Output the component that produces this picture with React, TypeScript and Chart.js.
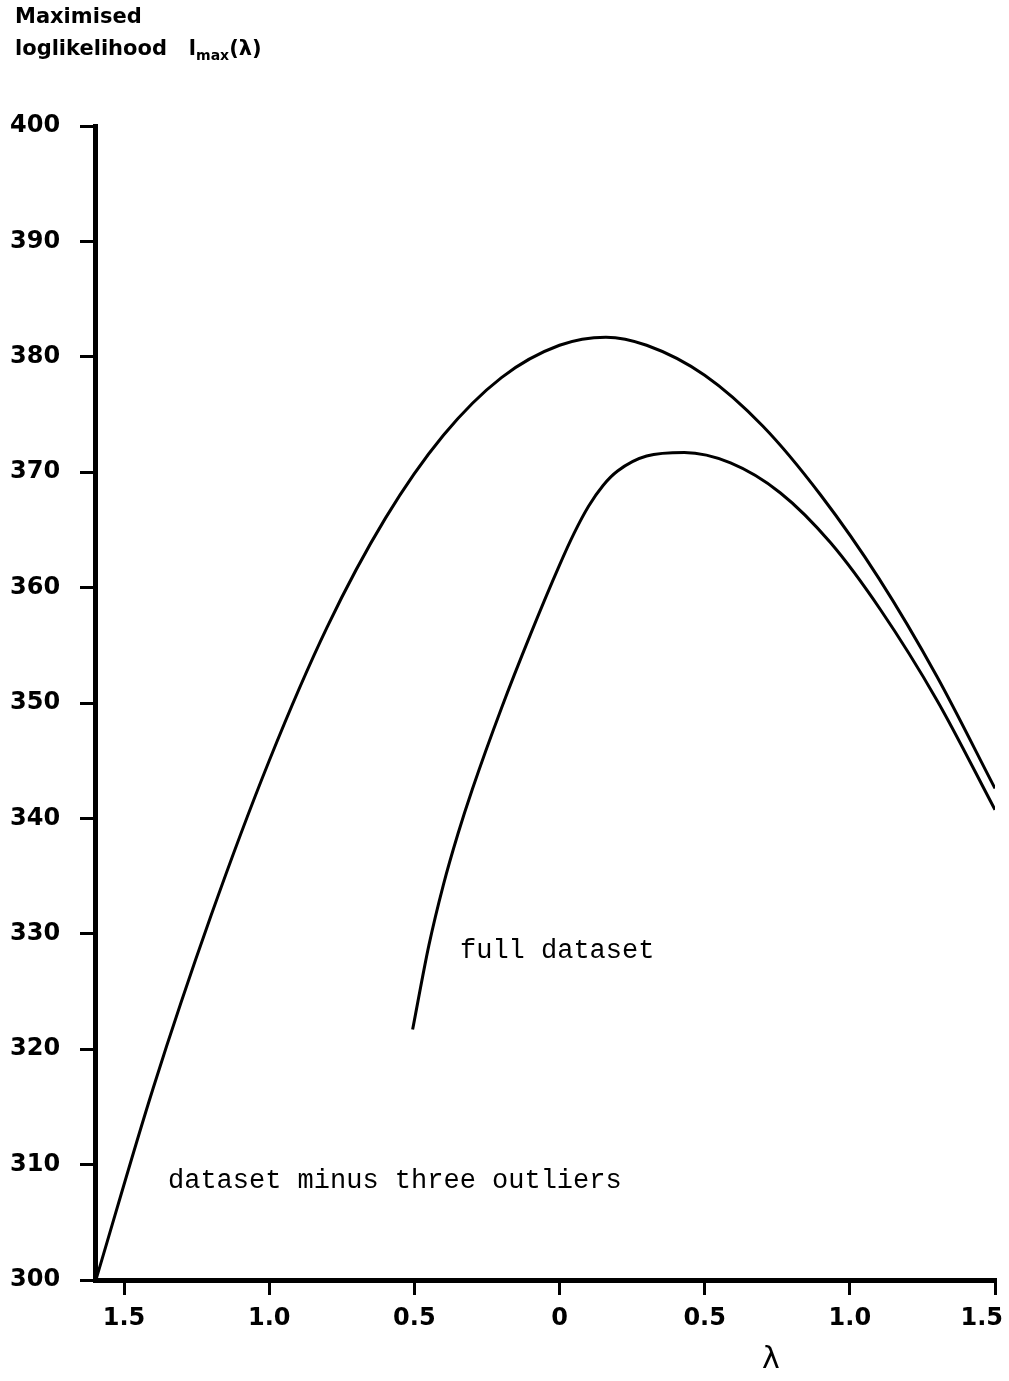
import React, { useEffect, useRef } from "react";
import { Chart, registerables } from "chart.js";

Chart.register(...registerables);

// Axis ticks
const X_TICKS = [-1.5, -1.0, -0.5, 0, 0.5, 1.0, 1.5];
const Y_TICKS = [300, 310, 320, 330, 340, 350, 360, 370, 380, 390, 400];

// Outer curve (dataset minus three outliers)
const OUTER_X = [-1.597, -1.4, -1.2, -1.0, -0.8, -0.6, -0.4, -0.2, 0.0, 0.16, 0.3, 0.5, 0.7, 0.9, 1.1, 1.3, 1.5];
const OUTER_Y = [300.0, 316.6, 331.6, 345.0, 356.6, 366.0, 373.2, 378.2, 381.0, 381.7, 381.0, 378.4, 374.0, 368.0, 360.8, 352.3, 342.6];

// Inner curve (full dataset)
const INNER_X = [-0.506, -0.45, -0.4, -0.35, -0.3, -0.2, -0.1, 0.0, 0.05, 0.1, 0.15, 0.2, 0.3, 0.43, 0.589, 0.761, 0.933, 1.105, 1.301, 1.5];
const INNER_Y = [321.7, 329.0, 334.25, 338.65, 342.55, 349.55, 355.95, 361.95, 364.7, 367.05, 368.85, 370.1, 371.4, 371.7, 370.8, 368.2, 363.9, 358.1, 350.2, 340.75];

const LABEL_FULL = "full dataset";
const LABEL_MINUS = "dataset minus three outliers";

const TICK_FONT_FAMILY = "'DejaVu Sans', sans-serif";

const fmtX = (v: number) => (v === 0 ? "0" : Math.abs(v).toFixed(1));

const xLabelPlugin = {
  id: "xLabels",
  afterDraw(chart: any) {
    const scale = chart.scales.x;
    const ctx = chart.ctx;
    ctx.save();
    ctx.font = `bold 24px ${TICK_FONT_FAMILY}`;
    ctx.fillStyle = "#000";
    ctx.textAlign = "center";
    ctx.textBaseline = "middle";
    const maxRight = chart.width - 6;
    X_TICKS.forEach((v) => {
      const text = fmtX(v);
      const w = ctx.measureText(text).width;
      let px = scale.getPixelForValue(v);
      if (px + w / 2 > maxRight) px = maxRight - w / 2;
      ctx.fillText(text, px, scale.top + 39);
    });
    ctx.restore();
  },
};

export default function App() {
  const canvasRef = useRef<HTMLCanvasElement | null>(null);

  useEffect(() => {
    const canvas = canvasRef.current;
    if (!canvas) return;
    const chart = new Chart(canvas, {
      type: "line",
      data: {
        datasets: [
          {
            label: LABEL_MINUS,
            data: OUTER_X.map((x, i) => ({ x, y: OUTER_Y[i] })),
            borderColor: "#000",
            borderWidth: 3,
            pointRadius: 0,
            fill: false,
            cubicInterpolationMode: "monotone",
          },
          {
            label: LABEL_FULL,
            data: INNER_X.map((x, i) => ({ x, y: INNER_Y[i] })),
            borderColor: "#000",
            borderWidth: 3,
            pointRadius: 0,
            fill: false,
            cubicInterpolationMode: "monotone",
          },
        ],
      },
      options: {
        responsive: false,
        animation: false,
        layout: { padding: { left: 10, top: 126, right: 14, bottom: 0 } },
        plugins: { legend: { display: false }, tooltip: { enabled: false } },
        scales: {
          x: {
            type: "linear",
            position: "bottom",
            min: -1.6,
            max: 1.5,
            border: { display: true, width: 5, color: "#000" },
            grid: { drawOnChartArea: false, drawTicks: true, tickLength: 15, lineWidth: 3, color: "#000" },
            ticks: { display: false },
            afterBuildTicks: (s: any) => {
              s.ticks = X_TICKS.map((v) => ({ value: v }));
            },
            afterFit: (s: any) => {
              s.height = 101;
              s.paddingLeft = 0;
              s.paddingRight = 0;
            },
          },
          y: {
            type: "linear",
            position: "left",
            min: 300,
            max: 400,
            border: { display: true, width: 5, color: "#000" },
            grid: { drawOnChartArea: false, drawTicks: true, tickLength: 15, lineWidth: 3, color: "#000" },
            ticks: {
              color: "#000",
              font: { family: TICK_FONT_FAMILY, size: 24, weight: "bold" },
              crossAlign: "far",
              autoSkip: false,
              callback: (v: any) => String(v),
            },
            afterBuildTicks: (s: any) => {
              s.ticks = Y_TICKS.map((v) => ({ value: v }));
            },
            afterFit: (s: any) => {
              s.width = 85;
              s.paddingTop = 0;
              s.paddingBottom = 0;
            },
          },
        },
      },
      plugins: [xLabelPlugin],
    } as any);
    return () => chart.destroy();
  }, []);

  const boldSans = "'DejaVu Sans', sans-serif";
  const mono = "'Liberation Mono', 'DejaVu Sans Mono', monospace";

  return (
    <div style={{ position: "absolute", left: 0, top: 0, width: 1009, height: 1381, background: "#fff", overflow: "hidden" }}>
      <canvas ref={canvasRef} width={1009} height={1381} style={{ position: "absolute", left: 0, top: 0, width: 1009, height: 1381 }} />
      <div style={{ position: "absolute", left: 15, top: 4, fontFamily: boldSans, fontWeight: "bold", fontSize: 21, lineHeight: "24px", color: "#000", whiteSpace: "nowrap" }}>
        Maximised
      </div>
      <div style={{ position: "absolute", left: 15, top: 36, fontFamily: boldSans, fontWeight: "bold", fontSize: 21, lineHeight: "24px", color: "#000", whiteSpace: "nowrap" }}>
        loglikelihood&nbsp;&nbsp;&nbsp;l<sub style={{ fontSize: 14 }}>max</sub>(λ)
      </div>
      <div style={{ position: "absolute", left: 460, top: 934, fontFamily: mono, fontSize: 27, lineHeight: "34px", color: "#000", whiteSpace: "nowrap" }}>
        {LABEL_FULL}
      </div>
      <div style={{ position: "absolute", left: 168, top: 1164, fontFamily: mono, fontSize: 27, lineHeight: "34px", color: "#000", whiteSpace: "nowrap" }}>
        {LABEL_MINUS}
      </div>
      <div style={{ position: "absolute", left: 762, top: 1340, fontFamily: boldSans, fontSize: 30, lineHeight: "36px", color: "#000", whiteSpace: "nowrap" }}>
        λ
      </div>
    </div>
  );
}
